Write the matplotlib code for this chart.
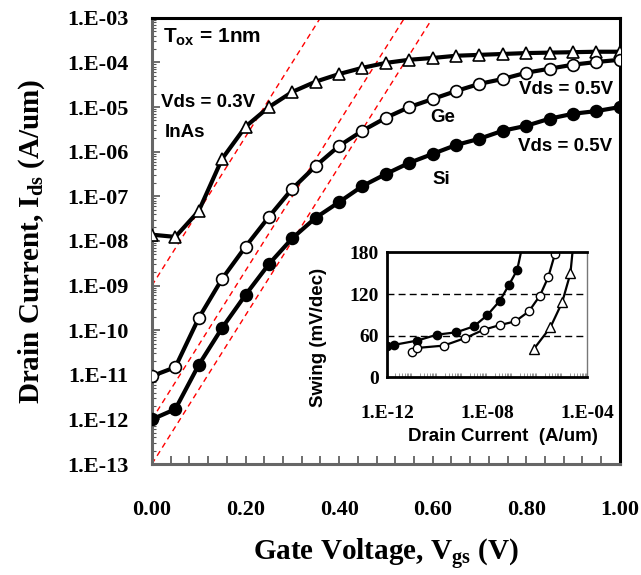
import numpy as np
import matplotlib
matplotlib.use('Agg')
import matplotlib.pyplot as plt
from matplotlib.ticker import FuncFormatter, MultipleLocator, LogLocator, NullFormatter

plt.rcParams['mathtext.fontset'] = 'custom'
plt.rcParams['mathtext.rm'] = 'Liberation Serif:bold'
plt.rcParams['mathtext.bf'] = 'Liberation Serif:bold'
plt.rcParams['mathtext.sf'] = 'Liberation Sans:bold'

SERIF = 'Liberation Serif'
SANS = 'Liberation Sans'

# gate voltage sweep (V)
vgs = [0.00, 0.05, 0.10, 0.15, 0.20, 0.25, 0.30, 0.35, 0.40, 0.45, 0.50,
       0.55, 0.60, 0.65, 0.70, 0.75, 0.80, 0.85, 0.90, 0.95, 1.00]

# log10 of drain current (A/um)
log_ids_inas = [-7.86, -7.91, -7.33, -6.16, -5.44, -5.00, -4.66, -4.43, -4.26, -4.12, -4.01,
                -3.94, -3.90, -3.85, -3.83, -3.81, -3.79, -3.78, -3.77, -3.76, -3.76]
log_ids_ge = [-11.03, -10.83, -9.73, -8.85, -8.13, -7.46, -6.83, -6.32, -5.87, -5.53, -5.24,
              -5.00, -4.82, -4.64, -4.48, -4.37, -4.23, -4.14, -4.05, -3.99, -3.94]
log_ids_si = [-12.00, -11.77, -10.78, -9.95, -9.21, -8.52, -7.94, -7.48, -7.13, -6.77, -6.50,
              -6.25, -6.05, -5.85, -5.71, -5.53, -5.42, -5.26, -5.15, -5.09, -5.00]

# ideal 60 mV/dec reference lines: log10(I) at Vgs = 0
ref_intercepts = [-9, -12, -13]
ref_swing = 0.060

# inset: swing vs drain current
sw_si_log_i = [-12.00, -11.73, -10.80, -10.00, -9.23, -8.53, -8.00, -7.49, -7.13, -6.80, -6.50]
sw_si = [45.6, 46.6, 52.8, 61.4, 64.8, 73.4, 89.3, 110.4, 133.0, 154.6, 205.0]
sw_ge_log_i = [-11.00, -10.80, -9.73, -8.87, -8.13, -7.47, -6.87, -6.33, -5.89, -5.56, -5.29]
sw_ge = [36.0, 42.2, 45.6, 56.6, 68.6, 75.4, 80.6, 95.0, 117.6, 144.0, 177.6]
sw_inas_log_i = [-6.13, -5.47, -5.00, -4.67, -4.45]
sw_inas = [40.8, 72.0, 108.0, 149.8, 230.0]

fig = plt.figure(figsize=(6.41, 5.75), dpi=100)
ax = fig.add_axes([0.237, 0.193, 0.730, 0.776])

lw = 3.0
ax.plot(vgs, 10.0 ** np.array(log_ids_inas), color='black', lw=lw, marker='^', ms=8.5,
        mfc='white', mec='black', mew=1.2, zorder=4)
ax.plot(vgs, 10.0 ** np.array(log_ids_ge), color='black', lw=lw, marker='o', ms=8.5,
        mfc='white', mec='black', mew=1.2, zorder=4)
ax.plot(vgs, 10.0 ** np.array(log_ids_si), color='black', lw=lw, marker='o', ms=8.5,
        mfc='black', mec='black', mew=1.2, zorder=4)

vv = np.array([0.0, 1.0])
for b in ref_intercepts:
    ax.plot(vv, 10.0 ** (b + vv / ref_swing), color='red', lw=1.0, ls=(0, (4, 3)), zorder=2)

ax.set_yscale('log')
ax.set_xlim(0, 1.0)
ax.set_ylim(1e-13, 1e-3)
ax.xaxis.set_major_locator(MultipleLocator(0.2))
ax.xaxis.set_minor_locator(MultipleLocator(0.04))
ax.xaxis.set_major_formatter(FuncFormatter(lambda v, p: f'{v:.2f}'))
ax.yaxis.set_major_locator(LogLocator(base=10, numticks=20))
ax.yaxis.set_minor_locator(LogLocator(base=10, subs=np.arange(2, 10), numticks=20))
ax.yaxis.set_minor_formatter(NullFormatter())
ax.yaxis.set_major_formatter(FuncFormatter(
    lambda v, p: f'1.E{int(round(np.log10(v))):+03d}'))

ax.tick_params(axis='both', which='both', direction='in', colors='#555555')
ax.tick_params(axis='x', which='both', length=6, width=1.2)
ax.tick_params(axis='y', which='major', length=6, width=1.2)
ax.tick_params(axis='y', which='minor', length=3, width=0.8)
ax.tick_params(axis='x', which='major', pad=26, labelcolor='black')
ax.tick_params(axis='y', which='major', pad=17, labelcolor='black')
for lab in ax.get_xticklabels() + ax.get_yticklabels():
    lab.set_fontfamily(SERIF)
    lab.set_fontweight('bold')
    lab.set_fontsize(16)

ax.spines['left'].set_color('#666666')
ax.spines['bottom'].set_color('#666666')
for s in ['top', 'right']:
    ax.spines[s].set_color('black')
for s in ax.spines.values():
    s.set_linewidth(2.2)

ax.set_xlabel(r'Gate Voltage, V$_{\mathrm{gs}}$ (V)', fontfamily=SERIF,
              fontweight='bold', fontsize=21, labelpad=12)
ax.set_ylabel(r'Drain Current, I$_{\mathrm{ds}}$ (A/um)', fontfamily=SERIF,
              fontweight='bold', fontsize=21, labelpad=14)

tkw = dict(transform=ax.transAxes, fontfamily=SANS, fontweight='bold', va='center')
ax.text(0.024, 0.957, r'T$_{\mathsf{ox}}$ = 1nm', fontsize=15, ha='left', **tkw)
ax.text(0.020, 0.810, 'Vds = 0.3V', fontsize=13.5, ha='left', **tkw)
ax.text(0.028, 0.744, 'InAs', fontsize=13.5, ha='left', **tkw)
ax.text(0.594, 0.776, 'Ge', fontsize=13.5, ha='left', **tkw)
ax.text(0.985, 0.839, 'Vds = 0.5V', fontsize=13.5, ha='right', **tkw)
ax.text(0.983, 0.711, 'Vds = 0.5V', fontsize=13.5, ha='right', **tkw)
ax.text(0.600, 0.637, 'Si', fontsize=13.5, ha='left', **tkw)

# inset
ins = fig.add_axes([0.604, 0.344, 0.312, 0.217])
ilw = 1.6
ins.plot(10.0 ** np.array(sw_si_log_i), sw_si, color='black', lw=ilw, marker='o', ms=6,
         mfc='black', mec='black', mew=1.0)
ins.plot(10.0 ** np.array(sw_ge_log_i), sw_ge, color='black', lw=ilw, marker='o', ms=6,
         mfc='white', mec='black', mew=1.0)
ins.plot(10.0 ** np.array(sw_inas_log_i), sw_inas, color='black', lw=ilw, marker='^', ms=7,
         mfc='white', mec='black', mew=1.0)
for h in [60, 120]:
    ins.axhline(h, color='black', lw=1.0, ls=(0, (5, 3)), zorder=1)

ins.set_xscale('log')
ins.set_xlim(1e-12, 1e-4)
ins.set_ylim(0, 180)
ins.set_yticks([0, 60, 120, 180])
ins.set_xticks([1e-12, 1e-8, 1e-4])
ins.xaxis.set_minor_locator(LogLocator(base=10, subs=np.arange(2, 10), numticks=20))
ins.xaxis.set_minor_formatter(NullFormatter())
ins.xaxis.set_major_formatter(FuncFormatter(
    lambda v, p: f'1.E{int(round(np.log10(v))):+03d}'))
ins.tick_params(axis='both', which='major', length=0)
ins.tick_params(axis='x', which='minor', direction='in', length=3, width=0.6, colors='#888888')
ins.tick_params(axis='x', which='major', pad=20)
ins.tick_params(axis='y', which='major', pad=6)
for lab in ins.get_xticklabels() + ins.get_yticklabels():
    lab.set_fontfamily(SERIF)
    lab.set_fontweight('bold')
    lab.set_fontsize(14)
for s in ins.spines.values():
    s.set_color('black')
    s.set_linewidth(2.0)
ins.spines['right'].set_color('#777777')
ins.spines['right'].set_linewidth(1.0)

ins.set_xlabel('Drain Current  (A/um)', fontfamily=SANS, fontweight='bold', fontsize=13.5)
ins.xaxis.set_label_coords(0.58, -0.41)
ins.set_ylabel('Swing (mV/dec)', fontfamily=SANS, fontweight='bold', fontsize=13.5)
ins.yaxis.set_label_coords(-0.30, 0.32)

fig.savefig('out.png', dpi=100)
